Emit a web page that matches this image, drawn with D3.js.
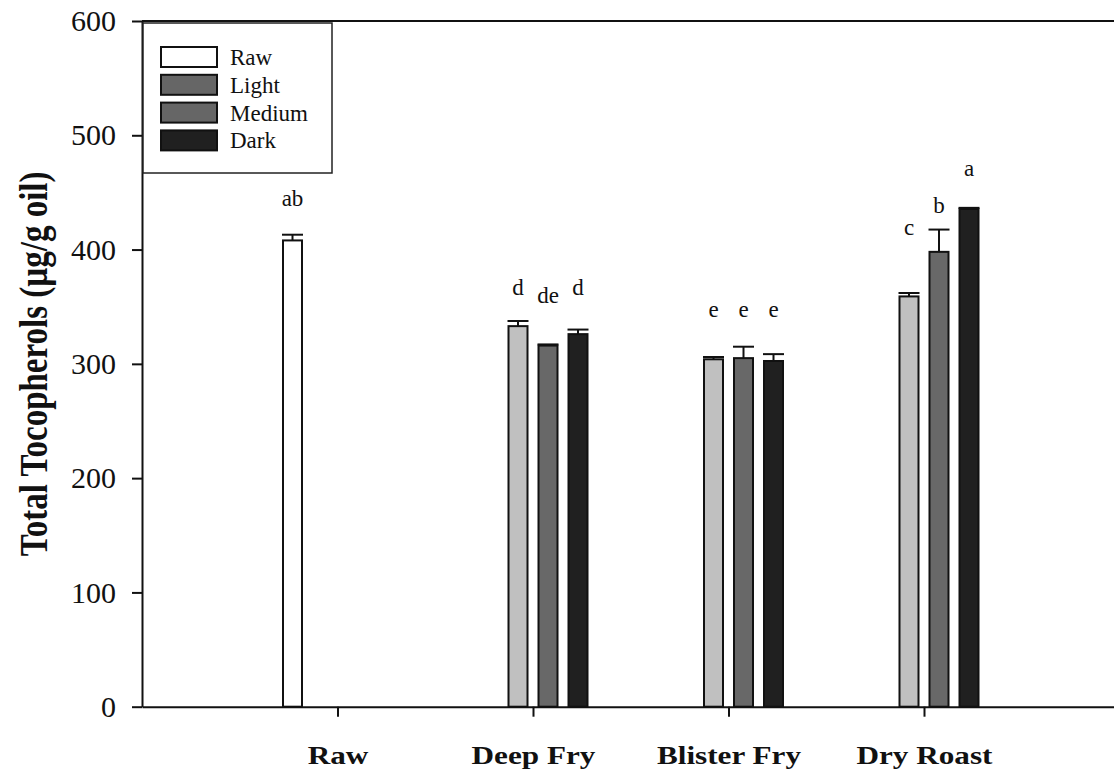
<!DOCTYPE html>
<html>
<head>
<meta charset="utf-8">
<script src="https://cdn.jsdelivr.net/npm/d3@7"></script>
<style>
  html, body { margin: 0; padding: 0; background: #fff; }
  svg { display: block; }
  text { font-family: "Liberation Serif", "Times New Roman", serif; fill: #111; }
</style>
</head>
<body>
<svg id="chart" width="1114" height="773"></svg>
<script>
// ---------- data ----------
const categories = ["Raw", "Deep Fry", "Blister Fry", "Dry Roast"];
const seriesNames = ["Raw", "Light", "Medium", "Dark"];

const rawMeans    = [408, null, null, null];
const lightMeans  = [null, 333, 304, 359];
const mediumMeans = [null, 316, 305, 398];
const darkMeans   = [null, 326, 302.5, 435.5];

const rawErr    = [5, null, null, null];
const lightErr  = [null, 4.5, 2, 3];
const mediumErr = [null, 1, 10, 19.5];
const darkErr   = [null, 4, 6, 1];

const rawLetters    = ["ab", null, null, null];
const lightLetters  = [null, "d", "e", "c"];
const mediumLetters = [null, "de", "e", "b"];
const darkLetters   = [null, "d", "e", "a"];

// letter baseline heights (data units)
const rawLetterY    = [438, null, null, null];
const lightLetterY  = [null, 360, 341, 413];
const mediumLetterY = [null, 353.5, 341, 432];
const darkLetterY   = [null, 360, 341, 464];

const yTicks = [0, 100, 200, 300, 400, 500, 600];
const yTitle = "Total Tocopherols (\u00b5g/g oil)";

// ---------- styles ----------
const barColors    = { Raw: "#ffffff", Light: "#c0c0c0", Medium: "#686868", Dark: "#202020" };
const legendColors = { Raw: "#ffffff", Light: "#666666", Medium: "#666666", Dark: "#202020" };

const seriesData = [
  { name: "Raw",    means: rawMeans,    errs: rawErr,    letters: rawLetters,    ly: rawLetterY },
  { name: "Light",  means: lightMeans,  errs: lightErr,  letters: lightLetters,  ly: lightLetterY },
  { name: "Medium", means: mediumMeans, errs: mediumErr, letters: mediumLetters, ly: mediumLetterY },
  { name: "Dark",   means: darkMeans,   errs: darkErr,   letters: darkLetters,   ly: darkLetterY }
];

const svg = d3.select("#chart");
const W = 1114, H = 773;
const mLeft = 142, mTop = 21, mBottom = 706.7;

const y = d3.scaleLinear().domain([0, 600]).range([mBottom, mTop]);
const x = d3.scaleLinear().domain([0, categories.length + 1]).range([mLeft, mLeft + 195.5 * 5]);
const sub = d3.scaleBand().domain(seriesNames).range([-60, 60]);
const barW = 19;

// flatten
const bars = [];
seriesData.forEach(s => {
  s.means.forEach((v, i) => {
    if (v == null) return;
    bars.push({ series: s.name, cat: i, value: v, err: s.errs[i], letter: s.letters[i], ly: s.ly[i] });
  });
});
const cx = d => x(d.cat + 1) + sub(d.series) + sub.bandwidth() / 2;

// top frame line
svg.append("line")
  .attr("x1", mLeft).attr("x2", W).attr("y1", y(600)).attr("y2", y(600))
  .attr("stroke", "#111").attr("stroke-width", 2.2);

// error bars (upper only)
const eb = svg.append("g").attr("stroke", "#111").attr("stroke-width", 2);
eb.selectAll("line.v").data(bars).join("line").attr("class", "v")
  .attr("x1", cx).attr("x2", cx)
  .attr("y1", d => y(d.value)).attr("y2", d => y(d.value + d.err));
eb.selectAll("line.c").data(bars).join("line").attr("class", "c")
  .attr("x1", d => cx(d) - barW / 2 - 1).attr("x2", d => cx(d) + barW / 2 + 1)
  .attr("y1", d => y(d.value + d.err)).attr("y2", d => y(d.value + d.err));

// bars
svg.append("g").selectAll("rect").data(bars).join("rect")
  .attr("x", d => cx(d) - barW / 2)
  .attr("width", barW)
  .attr("y", d => y(d.value))
  .attr("height", d => y(0) - y(d.value))
  .attr("fill", d => barColors[d.series])
  .attr("stroke", "#111").attr("stroke-width", 2);

// significance letters
svg.append("g").selectAll("text").data(bars).join("text")
  .attr("x", cx).attr("y", d => y(d.ly))
  .attr("text-anchor", "middle")
  .style("font-size", "23px")
  .text(d => d.letter);

// y axis
const yAxis = d3.axisLeft(y).tickValues(yTicks).tickSize(10).tickPadding(16).tickSizeOuter(0);
const gy = svg.append("g").attr("transform", `translate(${mLeft},0)`).call(yAxis);
gy.select(".domain").attr("stroke", "#111").attr("stroke-width", 2);
gy.selectAll(".tick line").attr("stroke", "#111").attr("stroke-width", 2);
gy.selectAll(".tick text").style("font-size", "30px").attr("fill", "#111")
  .style("font-family", "'Liberation Serif', 'Times New Roman', serif");

// x axis
const xAxis = d3.axisBottom(x).tickValues(categories.map((c, i) => i + 1))
  .tickFormat(v => categories[v - 1]).tickSize(10).tickSizeOuter(0);
const gx = svg.append("g").attr("transform", `translate(0,${mBottom})`).call(xAxis);
gx.select(".domain").attr("stroke", "#111").attr("stroke-width", 2);
gx.selectAll(".tick line").attr("stroke", "#111").attr("stroke-width", 2);
gx.selectAll(".tick text")
  .attr("y", 57).attr("dy", 0)
  .attr("transform", "scale(1.2,1)")
  .style("font-size", "26px").style("font-weight", "bold").attr("fill", "#111")
  .style("font-family", "'Liberation Serif', 'Times New Roman', serif");

// y title
svg.append("text")
  .attr("transform", `translate(33,${(mTop + mBottom) / 2}) rotate(-90) scale(1,1.2)`)
  .attr("text-anchor", "middle").attr("dy", "0.35em")
  .style("font-size", "33px").style("font-weight", "bold")
  .text(yTitle);

// legend
const lg = svg.append("g");
lg.append("rect")
  .attr("x", mLeft + 1).attr("y", mTop + 2).attr("width", 189).attr("height", 150)
  .attr("fill", "#fff").attr("stroke", "#222").attr("stroke-width", 1.5);
const li = lg.selectAll("g.item").data(seriesNames).join("g")
  .attr("transform", (d, i) => `translate(${mLeft + 19},${mTop + 26 + i * 27.8})`);
li.append("rect").attr("width", 56).attr("height", 20)
  .attr("fill", d => legendColors[d]).attr("stroke", "#111").attr("stroke-width", 2);
li.append("text").attr("x", 69).attr("y", 10).attr("dy", "0.35em")
  .style("font-size", "23px").text(d => d);
</script>
</body>
</html>
